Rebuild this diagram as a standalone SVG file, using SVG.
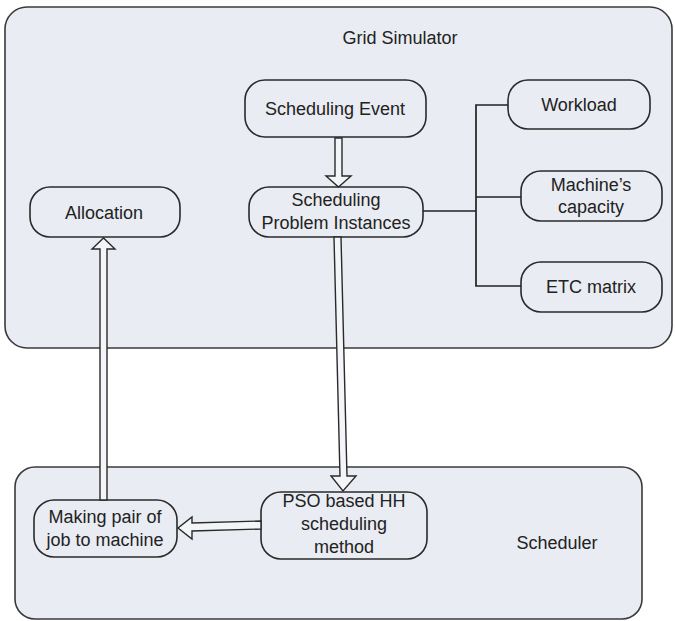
<svg xmlns="http://www.w3.org/2000/svg" width="675" height="621" viewBox="0 0 675 621">
<style>
.frame{fill:#e9ecf2;stroke:#3a3a3a;stroke-width:1.6}
.node{fill:#e9ecf2;stroke:#2a2a2a;stroke-width:1.6}
.t{font-family:"Liberation Sans",Arial,sans-serif;font-size:18px;fill:#222;text-anchor:middle}
.line{fill:none;stroke:#222;stroke-width:1.7}
.harrow{fill:#f4f5f8;stroke:#2a2a2a;stroke-width:1.4;stroke-linejoin:miter}
</style>
<rect width="675" height="621" fill="#ffffff"/>
<g id="grid-simulator">
<rect class="frame" x="5" y="7" width="667" height="341" rx="22"/>
<text class="t" x="400" y="44">Grid Simulator</text>
</g>
<g id="scheduler">
<rect class="frame" x="15" y="467" width="627" height="152" rx="20"/>
<text class="t" x="557" y="549">Scheduler</text>
</g>
<g id="scheduling-event">
<rect class="node" x="245" y="80" width="181" height="57" rx="20"/>
<text class="t" x="335" y="115">Scheduling Event</text>
</g>
<g id="scheduling-problem-instances">
<rect class="node" x="249" y="187" width="174" height="50" rx="20"/>
<text class="t" x="336" y="206">Scheduling</text>
<text class="t" x="336" y="229">Problem Instances</text>
</g>
<g id="allocation">
<rect class="node" x="30" y="187" width="150" height="50" rx="20"/>
<text class="t" x="104" y="219">Allocation</text>
</g>
<g id="workload">
<rect class="node" x="508" y="80" width="142" height="49" rx="20"/>
<text class="t" x="579" y="111">Workload</text>
</g>
<g id="machines-capacity">
<rect class="node" x="521" y="171" width="141" height="50" rx="20"/>
<text class="t" x="591" y="191">Machine’s</text>
<text class="t" x="591" y="213">capacity</text>
</g>
<g id="etc-matrix">
<rect class="node" x="521" y="262" width="141" height="50" rx="20"/>
<text class="t" x="591" y="293">ETC matrix</text>
</g>
<g id="pso-hh">
<rect class="node" x="261" y="492" width="166" height="67" rx="20"/>
<text class="t" x="344" y="507">PSO based HH</text>
<text class="t" x="344" y="530">scheduling</text>
<text class="t" x="344" y="553">method</text>
</g>
<g id="making-pair">
<rect class="node" x="34" y="500" width="143" height="57" rx="20"/>
<text class="t" x="105" y="523">Making pair of</text>
<text class="t" x="105" y="546">job to machine</text>
</g>
<g id="connectors">
<polyline class="line" points="423,211 476,211"/>
<polyline class="line" points="508,105 476,105 476,286 521,286"/>
<polyline class="line" points="476,197 521,197"/>
<polygon class="harrow" points="335,138 342,138 342,176 351,176 338.5,187 326,176 335,176"/>
<polygon class="harrow" points="334,237 341,237 347,476 356,476 343,491 331,476 340,476"/>
<polygon class="harrow" points="261,521 192,523 192,517 178,528 192,539 192,531 261,529"/>
<polygon class="harrow" points="100,500 107,500 107,249 115,249 103.5,238 92,249 100,249"/>
</g>
</svg>
